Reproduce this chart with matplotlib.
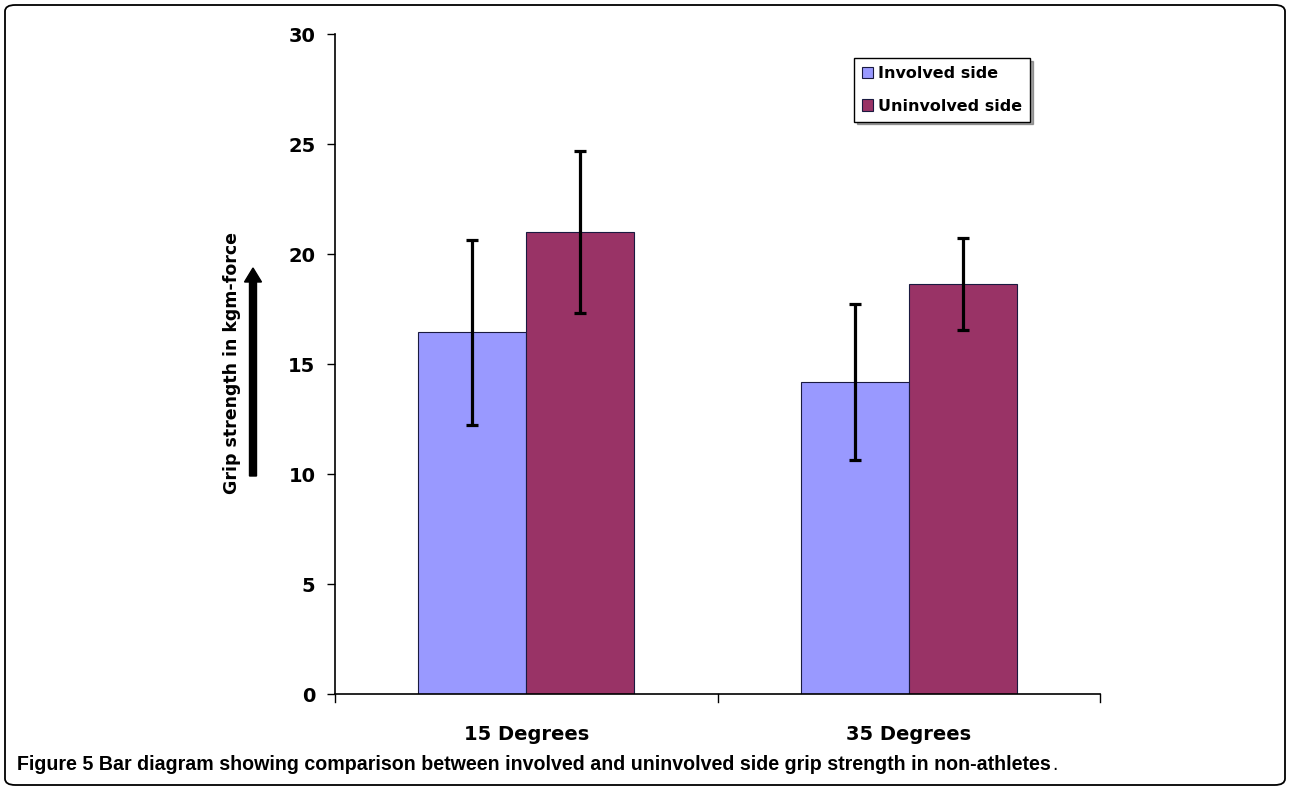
import matplotlib
matplotlib.use("Agg")
import matplotlib.pyplot as plt
import numpy as np
from matplotlib.patches import FancyBboxPatch, FancyArrow

categories = ["15 Degrees", "35 Degrees"]
series_names = ["Involved side", "Uninvolved side"]
involved = [16.45, 14.2]
involved_err = [4.2, 3.55]
uninvolved = [21.0, 18.65]
uninvolved_err = [3.7, 2.1]
yticks = [0, 5, 10, 15, 20, 25, 30]
ylabel = "Grip strength in kgm-force"
caption_bold = "Figure 5 Bar diagram showing comparison between involved and uninvolved side grip strength in non-athletes"

W, H = 1290, 790
fig = plt.figure(figsize=(W / 100, H / 100), dpi=100)
fig.patch.set_facecolor("white")

frame = FancyBboxPatch((5 / W, 5 / H), 1 - 10 / W, 1 - 10 / H,
                       boxstyle="round,pad=0,rounding_size=0.008",
                       transform=fig.transFigure, fill=False, ec="black", lw=1.3)
fig.add_artist(frame)

ax_l, ax_r, ax_t, ax_b = 335, 1100, 34, 694
ax = fig.add_axes([ax_l / W, (H - ax_b) / H, (ax_r - ax_l) / W, (ax_b - ax_t) / H])

chart_font = "DejaVu Sans"
x = np.arange(len(categories))
bw = 0.283
c1, c2 = "#9999FF", "#993366"
ax.bar(x - bw / 2, involved, bw, color=c1, edgecolor="#1a1a40", linewidth=0.8, label=series_names[0], zorder=2)
ax.bar(x + bw / 2, uninvolved, bw, color=c2, edgecolor="#1a1a40", linewidth=0.8, label=series_names[1], zorder=2)
ax.errorbar(x - bw / 2, involved, yerr=involved_err, fmt="none", ecolor="black", elinewidth=2.3,
            capsize=4.5, capthick=2.3, zorder=3)
ax.errorbar(x + bw / 2, uninvolved, yerr=uninvolved_err, fmt="none", ecolor="black", elinewidth=2.3,
            capsize=4.5, capthick=2.3, zorder=3)

ax.set_xlim(-0.5, len(categories) - 0.5)
ax.set_ylim(0, 30)
ax.set_yticks(yticks)
ax.set_yticklabels([str(v) for v in yticks], fontsize=14, fontweight="bold", family=chart_font)
ax.set_xticks(x)
ax.set_xticklabels(categories, fontsize=14, fontweight="bold", family=chart_font)
ax.tick_params(axis="x", length=0, pad=22)
ax.tick_params(axis="y", length=6, width=1, pad=8)
for b in np.arange(-0.5, len(categories), 1.0):
    ax.plot([b, b], [0, -0.012], transform=ax.get_xaxis_transform(), color="black", lw=1, clip_on=False)
for s in ["top", "right"]:
    ax.spines[s].set_visible(False)
ax.spines["left"].set_linewidth(1.2)
ax.spines["bottom"].set_linewidth(1.2)

leg = ax.legend(loc="upper right", bbox_to_anchor=((1030 - ax_l) / (ax_r - ax_l), 1 - (58 - ax_t) / (ax_b - ax_t)),
                frameon=True, fancybox=False, shadow=True, edgecolor="black",
                prop={"family": chart_font, "weight": "bold", "size": 11.5},
                handlelength=0.7, handleheight=0.7, handletextpad=0.3, borderpad=0.5,
                labelspacing=1.1, borderaxespad=0)
leg.get_frame().set_linewidth(1.0)

fig.text(232 / W, (H - 363) / H, ylabel, rotation=90, ha="center", va="center",
         fontsize=12.5, fontweight="bold", family=chart_font)
fig.add_artist(FancyArrow(253 / W, (H - 476) / H, 0, (476 - 268) / H,
                          width=7 / W, head_width=17 / W, head_length=14 / H,
                          length_includes_head=True, transform=fig.transFigure,
                          color="black"))

cap = fig.text(17 / W, (H - 764) / H, caption_bold, ha="left", va="center", fontsize=14,
               fontweight="bold", family="Liberation Sans")
fig.canvas.draw()
r = fig.canvas.get_renderer()
bb = cap.get_window_extent(r)
target = 1054 - 17
cap.set_fontsize(14 * target / bb.width)
fig.canvas.draw()
bb = cap.get_window_extent(r)
fig.text((bb.x1 + 1) / W, (H - 764) / H, ".", ha="left", va="center",
         fontsize=cap.get_fontsize(), family="Liberation Sans")

fig.savefig("out.png", dpi=100, facecolor="white")
